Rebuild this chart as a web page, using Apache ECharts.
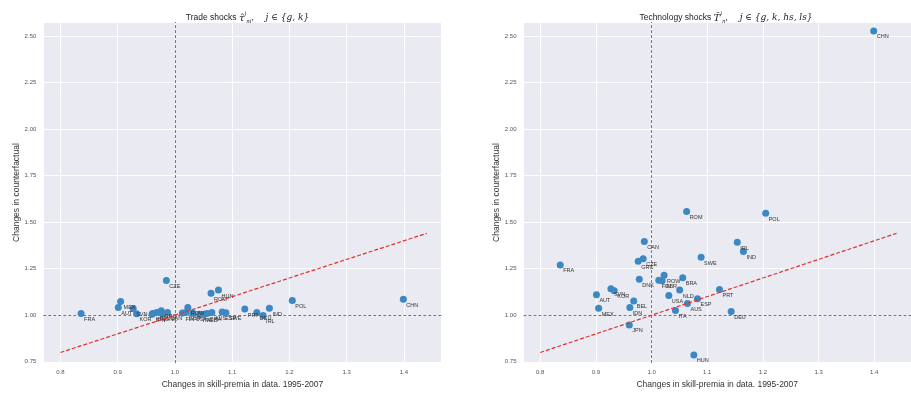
<!DOCTYPE html>
<html>
<head>
<meta charset="utf-8">
<script src="https://cdn.jsdelivr.net/npm/echarts@6/dist/echarts.min.js"></script>
<style>
  html, body { margin: 0; padding: 0; background: #ffffff; }
  #chart { width: 911px; height: 394px; }
</style>
</head>
<body>
<div id="chart"></div>
<script>
// Countries in the sample
const countries = ['CHN','ROM','POL','CAN','IRL','IND','SWE','FRA','CZE','GRC',
  'DNK','ROW','FIN','GBR','BRA','PRT','SVN','KOR','AUT','NLD',
  'USA','BEL','ESP','AUS','IDN','MEX','ITA','JPN','DEU','HUN'];

// Change in skill premia observed in the data, 1995-2007
const skillPremiaData = [1.399,1.063,1.205,0.987,1.154,1.165,1.089,0.836,0.985,0.976,
  0.978,1.0225,1.013,1.019,1.056,1.122,0.927,0.933,0.901,1.0505,
  1.031,0.968,1.0825,1.0645,0.961,0.905,1.043,0.960,1.143,1.076];

// Counterfactual change: trade shocks only
const tradeCounterfactual = [1.086,1.118,1.079,1.015,0.998,1.038,1.013,1.009,1.186,1.024,
  1.009,1.041,1.012,1.015,1.009,1.033,1.036,1.008,1.041,1.006,
  1.012,1.015,1.017,1.015,1.009,1.074,1.006,1.005,1.015,1.135];

// Counterfactual change: technology shocks only
const techCounterfactual = [2.527,1.557,1.548,1.396,1.392,1.342,1.312,1.270,1.304,1.290,
  1.194,1.215,1.188,1.185,1.202,1.138,1.142,1.131,1.110,1.135,
  1.106,1.077,1.088,1.063,1.041,1.038,1.025,0.948,1.020,0.787];

// Axis ticks
const xTicks = [0.8, 0.9, 1.0, 1.1, 1.2, 1.3, 1.4];
const yTicks = [0.75, 1.00, 1.25, 1.50, 1.75, 2.00, 2.25, 2.50];

// 45-degree reference line end points
const diagonal = [0.8, 1.44];

const FONT = 'Liberation Sans, Arial, sans-serif';
const xRange = [0.770, 1.466];
const yRange = [0.743, 2.575];

function makeXAxis(gridIndex) {
  return {
    type: 'value', gridIndex,
    min: xRange[0], max: xRange[1],
    minInterval: 0.1, maxInterval: 0.1,
    name: 'Changes in skill-premia in data. 1995-2007',
    nameLocation: 'middle', nameGap: 15,
    nameTextStyle: { fontFamily: FONT, fontSize: 8.5, color: '#333' },
    axisLine: { show: false }, axisTick: { show: false },
    axisLabel: {
      customValues: xTicks,
      fontFamily: FONT, fontSize: 6, color: '#555', margin: 6,
      formatter: v => v.toFixed(1)
    },
    splitLine: { show: true, lineStyle: { color: '#ffffff', width: 1 } }
  };
}

function makeYAxis(gridIndex) {
  return {
    type: 'value', gridIndex,
    min: yRange[0], max: yRange[1],
    minInterval: 0.25, maxInterval: 0.25,
    name: 'Changes in counterfactual',
    nameLocation: 'middle', nameGap: 22, nameRotate: 90,
    nameTextStyle: { fontFamily: FONT, fontSize: 8.5, color: '#333' },
    axisLine: { show: false }, axisTick: { show: false },
    axisLabel: {
      customValues: yTicks,
      fontFamily: FONT, fontSize: 6, color: '#555', margin: 7,
      formatter: v => v.toFixed(2)
    },
    splitLine: { show: true, lineStyle: { color: '#ffffff', width: 1 } }
  };
}

function scatterSeries(idx, values) {
  return {
    type: 'scatter', xAxisIndex: idx, yAxisIndex: idx,
    symbolSize: 7, z: 3,
    itemStyle: { color: '#3b88c3', opacity: 1 },
    data: countries.map((c, i) => ({ name: c, value: [skillPremiaData[i], values[i]] })),
    label: {
      show: true, formatter: '{b}', position: [6.5, 9.5],
      align: 'left', verticalAlign: 'middle',
      fontFamily: FONT, fontSize: 5.5, color: '#333'
    },
    markLine: {
      silent: true, symbol: 'none', z: 1,
      label: { show: false },
      lineStyle: { color: '#666', type: [3, 2], width: 0.9 },
      data: [{ xAxis: 1.0 }, { yAxis: 1.0 }]
    }
  };
}

function diagonalSeries(idx) {
  return {
    type: 'line', xAxisIndex: idx, yAxisIndex: idx, z: 4,
    symbol: 'none', silent: true,
    lineStyle: { color: '#e0332f', width: 1.2, type: [4, 2] },
    data: diagonal.map(v => [v, v])
  };
}

const richTitle = {
  a: { fontFamily: FONT, fontSize: 8.5, color: '#222', fontStyle: 'normal', lineHeight: 14 },
  m: { fontFamily: 'DejaVu Serif', fontSize: 10, color: '#222', fontStyle: 'italic', lineHeight: 14 },
  sup: { fontFamily: 'DejaVu Serif', fontSize: 5.5, color: '#222', fontStyle: 'italic', verticalAlign: 'top', lineHeight: 14 },
  sub: { fontFamily: 'DejaVu Serif', fontSize: 5.5, color: '#222', fontStyle: 'italic', verticalAlign: 'bottom', lineHeight: 12 }
};

const chart = echarts.init(document.getElementById('chart'), null, { renderer: 'canvas' });
chart.setOption({
  animation: false,
  backgroundColor: '#ffffff',
  title: [
    {
      text: '{a|Trade shocks }{m|τ̂}{sup|j}{sub|ni}{a|,     }j ∈ {g, k}',
      left: 242.5, top: 6, textAlign: 'center',
      textStyle: { fontFamily: 'DejaVu Serif', fontSize: 9, fontStyle: 'italic', fontWeight: 'normal', color: '#222', rich: richTitle }
    },
    {
      text: '{a|Technology shocks }{m|T̂}{sup|j}{sub|n}{a|,     }j ∈ {g, k, hs, ls}',
      left: 721, top: 6, textAlign: 'center',
      textStyle: { fontFamily: 'DejaVu Serif', fontSize: 9, fontStyle: 'italic', fontWeight: 'normal', color: '#222', rich: richTitle }
    }
  ],
  grid: [
    { left: 43.3, top: 22, width: 398.4, height: 341.5, show: true, backgroundColor: '#eaeaf2', borderWidth: 0 },
    { left: 523.5, top: 22, width: 398.4, height: 341.5, show: true, backgroundColor: '#eaeaf2', borderWidth: 0 }
  ],
  xAxis: [makeXAxis(0), makeXAxis(1)],
  yAxis: [makeYAxis(0), makeYAxis(1)],
  series: [
    scatterSeries(0, tradeCounterfactual),
    diagonalSeries(0),
    scatterSeries(1, techCounterfactual),
    diagonalSeries(1)
  ]
});
</script>
</body>
</html>
